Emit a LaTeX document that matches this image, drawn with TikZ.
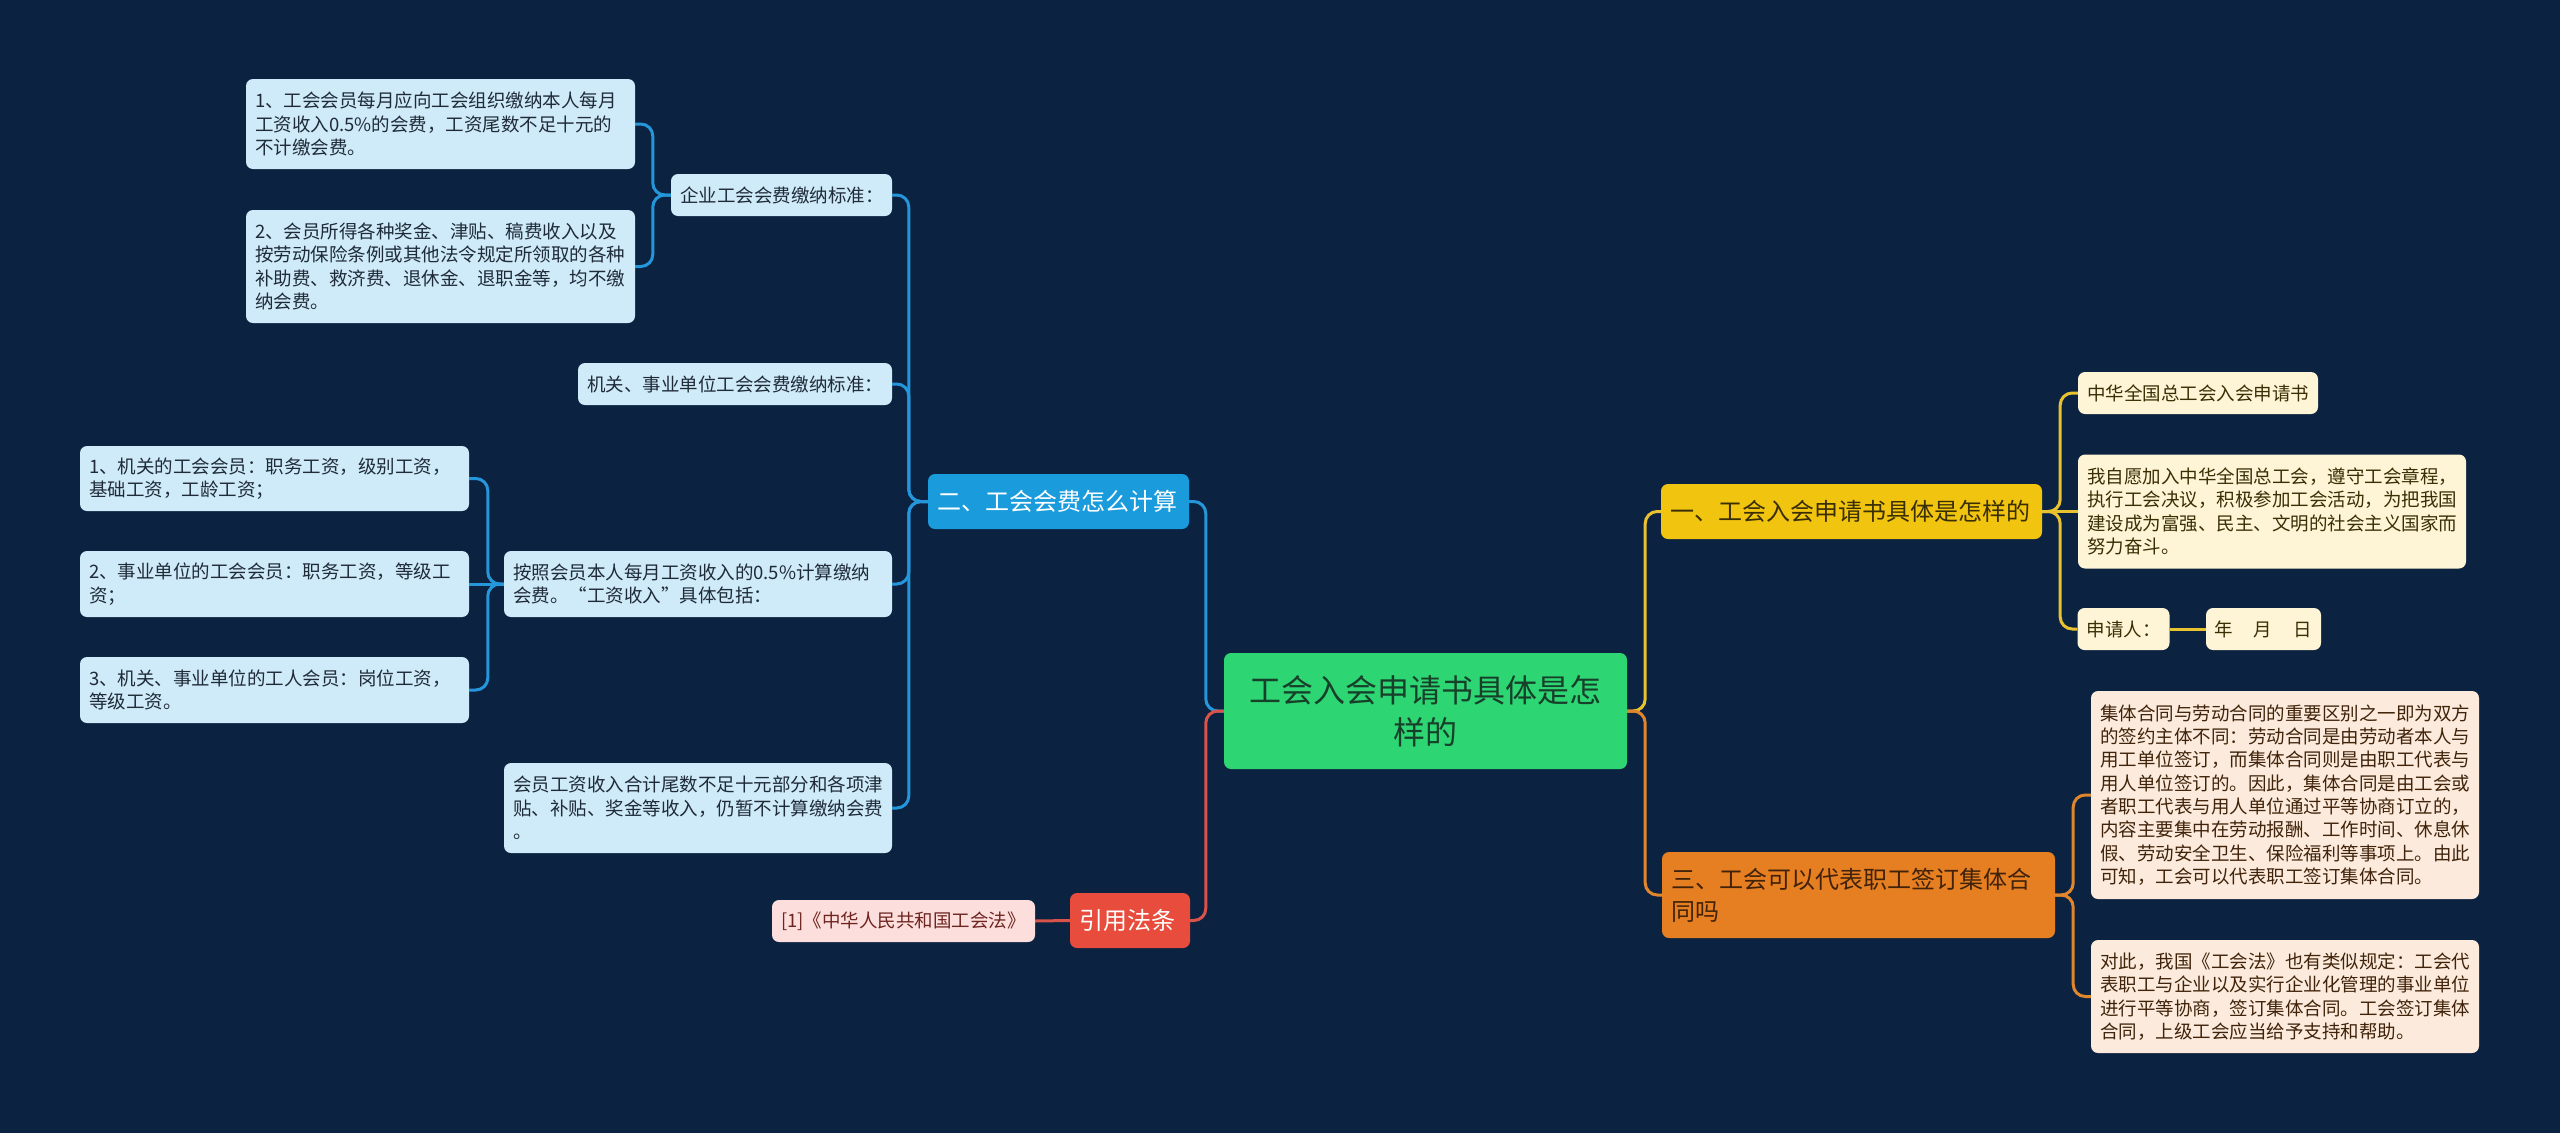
\documentclass[tikz,border=0pt]{standalone}
\usepackage{fontspec}
\setmainfont{Noto Sans CJK SC}
\definecolor{bg}{HTML}{0B2240}
\definecolor{mint}{HTML}{2ED573}
\definecolor{mintink}{HTML}{17402A}
\definecolor{sky}{HTML}{1A9BDC}
\definecolor{skyline}{HTML}{2596DA}
\definecolor{skypale}{HTML}{CFEAF8}
\definecolor{skyink}{HTML}{1F2B38}
\definecolor{tomato}{HTML}{E74C3C}
\definecolor{tomline}{HTML}{D9534A}
\definecolor{tompale}{HTML}{FCDEDC}
\definecolor{tomink}{HTML}{6E2520}
\definecolor{gold}{HTML}{F1C40F}
\definecolor{goldline}{HTML}{E8C22F}
\definecolor{goldpale}{HTML}{FDF5D5}
\definecolor{goldink}{HTML}{3A2E05}
\definecolor{amber}{HTML}{E67E22}
\definecolor{amberline}{HTML}{E0862D}
\definecolor{amberpale}{HTML}{FCEBDC}
\definecolor{amberink}{HTML}{40230A}

\begin{document}
\begin{tikzpicture}[x=1pt,y=-1pt,
    box/.style={rounded corners=7pt,inner xsep=9pt,inner ysep=0pt,align=left,
      font=\fontsize{18.5}{23.3}\selectfont},
    mainbox/.style={box,font=\fontsize{24}{32}\selectfont},
    centrebox/.style={box,fill=mint,text=mintink,align=center,inner xsep=20pt,
      font=\fontsize{32}{42}\selectfont},
    skymain/.style={mainbox,fill=sky,text=white},
    skyleaf/.style={box,fill=skypale,text=skyink},
    tommain/.style={mainbox,fill=tomato,text=white},
    tomleaf/.style={box,fill=tompale,text=tomink},
    goldmain/.style={mainbox,fill=gold,text=goldink},
    goldleaf/.style={box,fill=goldpale,text=goldink},
    ambermain/.style={mainbox,fill=amber,text=amberink},
    amberleaf/.style={box,fill=amberpale,text=amberink},
    link/.style={line width=3pt,rounded corners=12pt},
    skylink/.style={link,skyline},
    tomlink/.style={link,tomline},
    goldlink/.style={link,goldline},
    amberlink/.style={link,amberline}]
    \useasboundingbox (0,0) rectangle (2560,1133);
    \fill[bg] (0,0) rectangle (2560,1133);
    % centre topic
    \node[centrebox,text width=363,minimum height=116] (ctr) at (1425.5,711)
      {工会入会申请书具体是怎\\样的};
    % left: fee calculation
    \node[skymain,text width=243,minimum height=55] (calc) at (1058.5,501.5)
      {二、工会会费怎么计算};
    \node[skyleaf,text width=203,minimum height=42] (firm) at (781.5,195)
      {企业工会会费缴纳标准：};
    \node[skyleaf,text width=371,minimum height=90] (firmA) at (440.5,124)
      {1、工会会员每月应向工会组织缴纳本人每月\\工资收入0.5\%的会费，工资尾数不足十元的\\不计缴会费。};
    \node[skyleaf,text width=371,minimum height=113] (firmB) at (440.5,266.5)
      {2、会员所得各种奖金、津贴、稿费收入以及\\按劳动保险条例或其他法令规定所领取的各种\\补助费、救济费、退休金、退职金等，均不缴\\纳会费。};
    \node[skyleaf,text width=296,minimum height=42] (gov) at (735,384)
      {机关、事业单位工会会费缴纳标准：};
    \node[skyleaf,text width=370,minimum height=66] (wage) at (698,584)
      {按照会员本人每月工资收入的0.5\%计算缴纳\\会费。“工资收入”具体包括：};
    \node[skyleaf,text width=371,minimum height=65] (wageA) at (274.5,478.5)
      {1、机关的工会会员：职务工资，级别工资，\\基础工资，工龄工资；};
    \node[skyleaf,text width=371,minimum height=66] (wageB) at (274.5,584)
      {2、事业单位的工会会员：职务工资，等级工\\资；};
    \node[skyleaf,text width=371,minimum height=66] (wageC) at (274.5,690)
      {3、机关、事业单位的工人会员：岗位工资，\\等级工资。};
    \node[skyleaf,text width=370,minimum height=90] (rest) at (698,808)
      {会员工资收入合计尾数不足十元部分和各项津\\贴、补贴、奖金等收入，仍暂不计算缴纳会费\\。};
    % left: cited law
    \node[tommain,text width=102,minimum height=55] (law) at (1130,920.5) {引用法条};
    \node[tomleaf,text width=245,minimum height=42] (lawA) at (903.5,921)
      {[1]《中华人民共和国工会法》};
    % right: application form
    \node[goldmain,text width=363,minimum height=55] (form) at (1851.5,511.5)
      {一、工会入会申请书具体是怎样的};
    \node[goldleaf,text width=222,minimum height=42] (formA) at (2198,393)
      {中华全国总工会入会申请书};
    \node[goldleaf,text width=370,minimum height=114] (formB) at (2272,511.5)
      {我自愿加入中华全国总工会，遵守工会章程，\\执行工会决议，积极参加工会活动，为把我国\\建设成为富强、民主、文明的社会主义国家而\\努力奋斗。};
    \node[goldleaf,text width=74,minimum height=42] (formC) at (2123.5,629) {申请人：};
    \node[goldleaf,text width=99,minimum height=42,inner xsep=8pt] (date) at (2263.5,629)
      {年\hspace{21pt}月\hspace{21pt}日};
    % right: collective contract
    \node[ambermain,text width=375,minimum height=86] (pact) at (1858.5,895)
      {三、工会可以代表职工签订集体合\\同吗};
    \node[amberleaf,text width=370,minimum height=208] (pactA) at (2285,795)
      {集体合同与劳动合同的重要区别之一即为双方\\的签约主体不同：劳动合同是由劳动者本人与\\用工单位签订，而集体合同则是由职工代表与\\用人单位签订的。因此，集体合同是由工会或\\者职工代表与用人单位通过平等协商订立的，\\内容主要集中在劳动报酬、工作时间、休息休\\假、劳动安全卫生、保险福利等事项上。由此\\可知，工会可以代表职工签订集体合同。};
    \node[amberleaf,text width=370,minimum height=113] (pactB) at (2285,996.5)
      {对此，我国《工会法》也有类似规定：工会代\\表职工与企业以及实行企业化管理的事业单位\\进行平等协商，签订集体合同。工会签订集体\\合同，上级工会应当给予支持和帮助。};
    % links
    \draw[skylink] (ctr.west) -- ++(-18,0) |- (calc.east);
    \draw[tomlink] (ctr.west) -- ++(-18,0) |- (law.east);
    \draw[goldlink] (ctr.east) -- ++(18,0) |- (form.west);
    \draw[amberlink] (ctr.east) -- ++(18,0) |- (pact.west);
    \foreach \c in {firm,gov,wage,rest}
      \draw[skylink] (calc.west) -- ++(-19,0) |- (\c.east);
    \foreach \c in {firmA,firmB}
      \draw[skylink] (firm.west) -- ++(-18,0) |- (\c.east);
    \foreach \c in {wageA,wageC}
      \draw[skylink] (wage.west) -- ++(-16,0) |- (\c.east);
    \draw[skylink] (wage.west) -- (wageB.east);
    \draw[tomlink] (law.west) -- (lawA.east);
    \foreach \c in {formA,formC}
      \draw[goldlink] (form.east) -- ++(18,0) |- (\c.west);
    \draw[goldlink] (form.east) -- (formB.west);
    \draw[goldlink] (formC.east) -- (date.west);
    \foreach \c in {pactA,pactB}
      \draw[amberlink] (pact.east) -- ++(18,0) |- (\c.west);
\end{tikzpicture}
\end{document}
